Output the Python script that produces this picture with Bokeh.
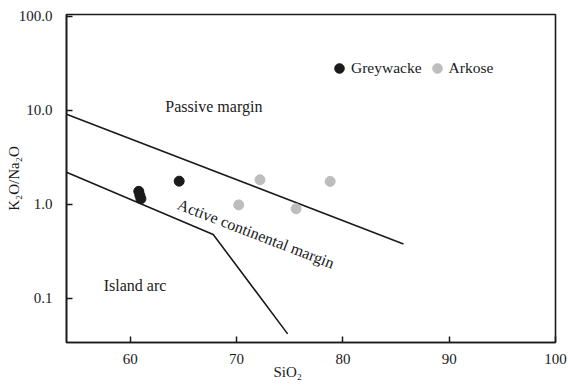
from bokeh.plotting import figure
from bokeh.models import (ColumnDataSource, FixedTicker, PrintfTickFormatter,
                          Label, Legend, LegendItem, Range1d, Title)
from bokeh.embed import file_html
from bokeh.resources import INLINE
import math

# ---- data ----
greywacke_sio2 = [60.8, 60.9, 61.0, 64.6]
greywacke_ratio = [1.38, 1.25, 1.15, 1.77]
arkose_sio2 = [70.2, 72.2, 75.6, 78.8]
arkose_ratio = [0.99, 1.83, 0.90, 1.76]

upper_line_sio2 = [54.0, 85.7]
upper_line_ratio = [9.1, 0.38]
lower_line_sio2 = [54.0, 67.8, 74.8]
lower_line_ratio = [2.2, 0.48, 0.042]

x_ticks = [60, 70, 80, 90, 100]
y_ticks = [0.1, 1, 10, 100]

FONT = "Liberation Serif"
INK = "#1a1a1a"

p = figure(width=568, height=392, output_backend="svg", toolbar_location=None,
           y_axis_type="log",
           x_range=Range1d(54, 100), y_range=Range1d(0.034, 105),
           min_border_left=66, min_border_right=13, min_border_top=14,
           min_border_bottom=50)
p.background_fill_color = "white"
p.border_fill_color = "white"
p.outline_line_color = INK
p.outline_line_width = 1.6
p.xgrid.visible = False
p.ygrid.visible = False

for ax in (p.xaxis[0], p.yaxis[0]):
    ax.axis_line_color = INK
    ax.axis_line_width = 1.6
    ax.major_tick_line_color = INK
    ax.major_tick_line_width = 1.5
    ax.major_tick_in = 6
    ax.major_tick_out = 0
    ax.minor_tick_line_color = None
    ax.major_label_text_font = FONT
    ax.major_label_text_font_size = "15px"
    ax.major_label_text_color = INK

p.xaxis.ticker = FixedTicker(ticks=x_ticks)
p.xaxis.major_label_standoff = 11
p.yaxis.ticker = FixedTicker(ticks=y_ticks)
p.yaxis.formatter = PrintfTickFormatter(format="%.1f")
p.yaxis.major_label_standoff = 14
p.yaxis.axis_label = "K\u2082O/Na\u2082O"
p.yaxis.axis_label_standoff = -6
p.yaxis.axis_label_text_font = FONT
p.yaxis.axis_label_text_font_size = "15px"
p.yaxis.axis_label_text_font_style = "normal"
p.yaxis.axis_label_text_color = INK

# x title placed left of centre as in the reference
p.add_layout(Title(text="SiO\u2082", align="left", offset=207, standoff=-10,
                   text_font=FONT, text_font_size="15px",
                   text_font_style="normal", text_color=INK), "below")

# boundary lines
src_up = ColumnDataSource(dict(x=upper_line_sio2, y=upper_line_ratio))
src_lo = ColumnDataSource(dict(x=lower_line_sio2, y=lower_line_ratio))
p.line("x", "y", source=src_up, line_color=INK, line_width=1.6)
p.line("x", "y", source=src_lo, line_color=INK, line_width=1.6)

# points
src_g = ColumnDataSource(dict(x=greywacke_sio2, y=greywacke_ratio))
src_a = ColumnDataSource(dict(x=arkose_sio2, y=arkose_ratio))
r_g = p.scatter("x", "y", source=src_g, size=10, fill_color=INK, line_color=INK)
r_a = p.scatter("x", "y", source=src_a, size=10, fill_color="#bdbdbd", line_color="#bdbdbd")

legend = Legend(items=[LegendItem(label="Greywacke", renderers=[r_g]),
                       LegendItem(label="Arkose", renderers=[r_a])],
                orientation="horizontal", location=(261, 262),
                border_line_color=None, background_fill_alpha=0,
                padding=0, margin=0, spacing=3, label_standoff=0,
                glyph_width=24, glyph_height=24,
                label_text_font=FONT, label_text_font_size="15.5px",
                label_text_color=INK, label_height=24)
p.add_layout(legend)

# region labels
common = dict(text_font=FONT, text_font_size="16px", text_color=INK)
p.add_layout(Label(x=63.3, y=11.0, text="Passive margin",
                   text_align="left", text_baseline="alphabetic", **common))
p.add_layout(Label(x=64.5, y=1.02, text="Active continental margin",
                   angle=-math.radians(21.1), text_align="left",
                   text_baseline="alphabetic", **common))
p.add_layout(Label(x=57.5, y=0.137, text="Island arc",
                   text_align="left", text_baseline="alphabetic", **common))

open("out.html", "w").write(file_html(p, INLINE))
